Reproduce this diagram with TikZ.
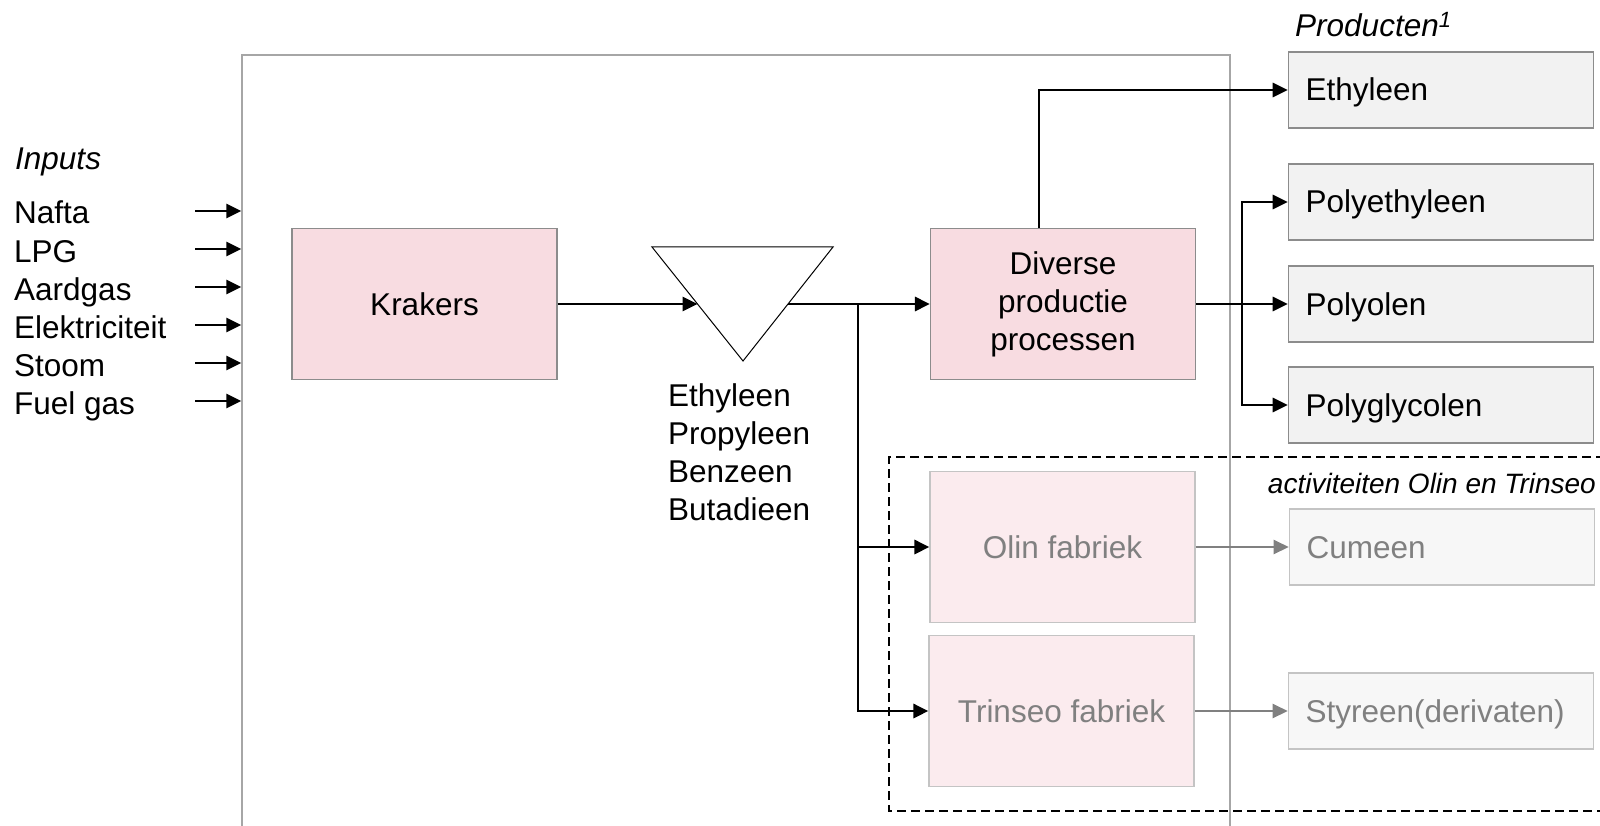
\documentclass[tikz,border=0pt]{standalone}
\usepackage{fontspec}
\setmainfont{Liberation Sans}
\usetikzlibrary{arrows.meta,positioning}
\definecolor{CrackPink}{HTML}{F8DCE1}
\definecolor{PlantPink}{HTML}{FBEBEE}
\definecolor{ProdGray}{HTML}{F2F2F2}
\definecolor{FadeGray}{HTML}{F7F7F7}
\definecolor{EdgeGray}{HTML}{8C8C8C}
\definecolor{FaintEdge}{HTML}{C4C4C4}
\definecolor{FrameGray}{HTML}{A6A6A6}
\definecolor{TextGray}{HTML}{808080}
\newcommand{\labelfont}{\fontsize{31.5}{38}\selectfont}
\newcommand{\notefont}{\fontsize{28}{34}\selectfont\itshape}

\begin{document}
\begin{tikzpicture}[
  x=1pt,y=-1pt,
  every node/.style={font=\labelfont,inner sep=0pt},
  frame/.style={draw=FrameGray,line width=1.3pt,minimum width=988pt,minimum height=785pt},
  unit/.style={draw=EdgeGray,fill=CrackPink,line width=1.2pt,minimum width=265pt,minimum height=151pt,align=center},
  plant/.style={unit,draw=FaintEdge,fill=PlantPink,text=TextGray},
  product/.style={draw=EdgeGray,fill=ProdGray,line width=1.6pt,minimum height=76pt,
                  inner xsep=17pt,text width=271pt,text height=22pt,text depth=0pt,align=left},
  fadeproduct/.style={product,draw=FaintEdge,fill=FadeGray,text=TextGray},
  flow/.style={-{Triangle[length=15pt,width=14pt]},line width=2.9pt},
  fadeflow/.style={flow,draw=TextGray,line width=2.4pt},
  joint/.style={dashed,dash pattern=on 9pt off 5pt,line width=1.3pt}
]
  \useasboundingbox (0,0) rectangle (1600,826);

  % site border and joint-venture area
  \node[frame] (site) at (736,447.5) {};
  \draw[joint] (1605,457) -| (889,811) -- (1605,811);
  \node[anchor=base east,font=\notefont] (jointnote) at (1596,493) {activiteiten Olin en Trinseo};

  % inputs
  \node[anchor=base west,font=\labelfont\itshape] (inputs) at (15,170) {Inputs};
  \foreach \name [count=\i from 0] in {Nafta,LPG,Aardgas,Elektriciteit,Stoom,Fuel gas}{
    \node[anchor=base west] (input\i) at (14,224+38*\i) {\name};
    \coordinate (feed\i) at (195,211+38*\i);
    \draw[flow] (feed\i) -- (feed\i -| site.west);
  }

  % crackers and splitter
  \node[unit] (krakers) at (424.5,304) {Krakers};
  \draw[line width=1pt] (652,247) -- (833,247) -- (743,361) -- cycle;
  \coordinate (splitin) at (697.5,304);
  \coordinate (splitout) at (788,304);
  \coordinate (fork) at (858,304);
  \foreach \name [count=\i from 0] in {Ethyleen,Propyleen,Benzeen,Butadieen}
    \node[anchor=base west] (mono\i) at (668,406+38*\i) {\name};

  % plants
  \node[unit] (diverse) at (1063,304) {Diverse\\productie\\processen};
  \node[plant] (olin) at (1062.5,547) {Olin fabriek};
  \node[plant] (trinseo) at (1061.5,711) {Trinseo fabriek};

  % products
  \node[anchor=base west,font=\labelfont\itshape] (products) at (1295,37) {Producten\textsuperscript{1}};
  \node[product] (ethyleen) at (1441,90) {Ethyleen};
  \node[product] (polyethyleen) at (1441,202) {Polyethyleen};
  \node[product] (polyolen) at (1441,304) {Polyolen};
  \node[product] (polyglycolen) at (1441,405) {Polyglycolen};
  \node[fadeproduct] (cumeen) at (1442,547) {Cumeen};
  \node[fadeproduct] (styreen) at (1441,711) {Styreen(derivaten)};

  % flows
  \draw[flow] (krakers.east) -- (splitin);
  \draw[flow] (splitout) -- (diverse.west);
  \draw[flow] (fork) |- (olin.west);
  \draw[flow] (fork) |- (trinseo.west);
  \draw[flow] ([xshift=-24pt]diverse.north) |- (ethyleen.west);
  \draw[flow] (diverse.east) -- (polyolen.west);
  \coordinate (pfork) at (1242,304);
  \draw[flow] (pfork) |- (polyethyleen.west);
  \draw[flow] (pfork) |- (polyglycolen.west);
  \draw[fadeflow] (olin.east) -- (cumeen.west);
  \draw[fadeflow] (trinseo.east) -- (styreen.west);
\end{tikzpicture}
\end{document}
